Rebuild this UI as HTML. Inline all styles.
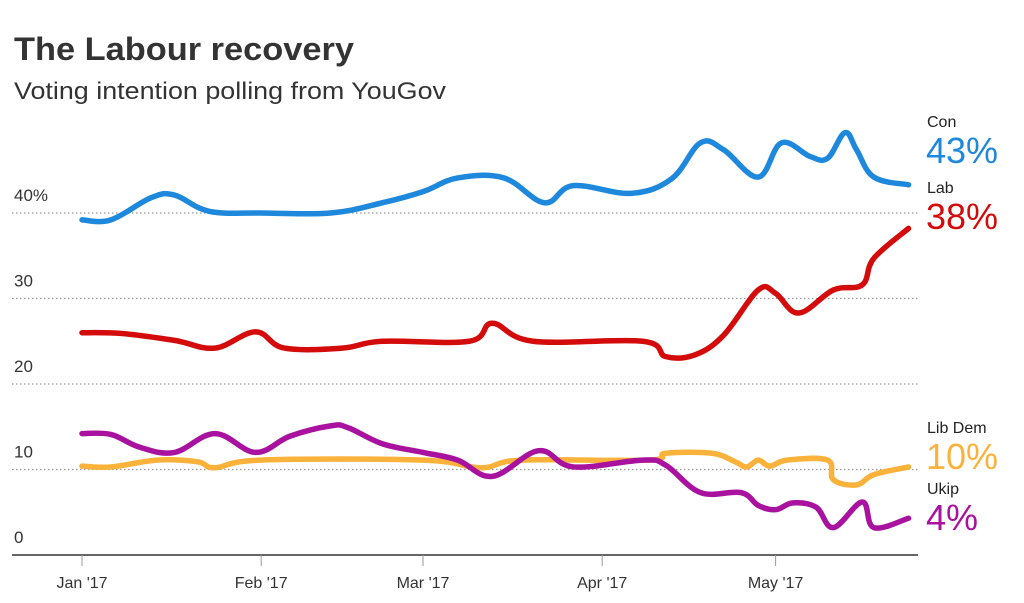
<!DOCTYPE html>
<html><head><meta charset="utf-8"><style>
body{margin:0;background:#fff;}
svg{display:block;font-family:"Liberation Sans",sans-serif;}
</style></head><body>
<svg id="c" width="1024" height="603">
<text x="14" y="60" font-size="32" font-weight="bold" fill="#333" textLength="340" lengthAdjust="spacingAndGlyphs">The Labour recovery</text>
<text x="14" y="99" font-size="24" fill="#333" textLength="432" lengthAdjust="spacingAndGlyphs">Voting intention polling from YouGov</text>
<g id="grid"></g><g id="lines"></g><g id="xaxis"></g>
<text x="927" y="127" font-size="16" fill="#222">Con</text>
<text x="926" y="163" font-size="36" fill="#1e88dc">43%</text>
<text x="927" y="193" font-size="16" fill="#222">Lab</text>
<text x="926" y="229" font-size="36" fill="#d40b0b">38%</text>
<text x="927" y="433" font-size="16" fill="#222">Lib Dem</text>
<text x="926" y="469" font-size="36" fill="#fbb23a">10%</text>
<text x="927" y="494" font-size="16" fill="#222">Ukip</text>
<text x="926" y="530" font-size="36" fill="#a8129e">4%</text>
</svg>
<script>
const yTicks=[0,10,20,30,40];
const yTickLabels=["0","10","20","30","40%"];
const monthDays=[0,31,59,90,120];
const monthLabels=["Jan '17","Feb '17","Mar '17","Apr '17","May '17"];
const conDays=[0,5,12,16,22,31,43,52,59,65,73,80,85,95,102,107,111,117,121,126,129,132,134,137,143];
const conVals=[39.2,39.2,41.8,42.1,40.2,40,40,41.2,42.5,44.1,44.1,41.2,43.2,42.3,44,48.2,47.4,44.2,48.2,46.6,46.4,49.4,47.4,44.2,43.3];
const labDays=[0,7,16,23,30,35,45,52,67,71,78,97,101,106,111,117,120,124,130,135,137,143];
const labVals=[26,25.9,25.1,24.2,26.1,24.2,24.2,25,25,27.1,25,25,23.2,23.4,25.7,31,30.6,28.3,31,31.6,34.7,38.2];
const ldDays=[0,5,13,20,23,31,59,69,76,98,101,109,113,115,117,119,122,129,130,134,137,143];
const ldVals=[10.4,10.3,11.1,10.9,10.2,11.1,11.1,10.2,11.1,11.1,11.9,11.9,10.9,10.3,11.1,10.4,11.1,11.1,8.8,8.2,9.4,10.3];
const ukDays=[0,5,10,16,23,30,36,43,46,52,59,65,71,79,85,97,101,107,114,117,120,123,127,130,135,137,143];
const ukVals=[14.2,14.1,12.6,12,14.2,12,13.9,15.1,14.9,13,12,11.1,9.2,12.2,10.3,11.1,10.5,7.3,7.3,5.8,5.3,6.1,5.6,3.2,6.2,3.2,4.3];
const NS="http://www.w3.org/2000/svg";
const X=d=>82+d*5.78, Y=v=>555-v*8.55;
const grid=document.getElementById('grid'),lines=document.getElementById('lines'),xa=document.getElementById('xaxis');
function mk(tag,a,p){const e=document.createElementNS(NS,tag);for(const k in a)e.setAttribute(k,a[k]);p.appendChild(e);return e;}
yTicks.forEach((v,i)=>{
 if(v>0){const l=mk('line',{x1:12,x2:918,y1:Y(v),y2:Y(v),stroke:'#999','stroke-dasharray':'1.5 2.5','stroke-width':1.2},grid);
 
 }
 const t=mk('text',{x:14,y:Y(v)-12,'font-size':17,fill:'#333'},grid);t.textContent=yTickLabels[i];
 
 
});
const ax=mk('line',{x1:12,x2:918,y1:555,y2:555,stroke:'#333','stroke-width':1.5},xa);


monthDays.forEach((d,i)=>{
 const tk=mk('line',{x1:X(d),x2:X(d),y1:555,y2:566,stroke:'#999','stroke-width':1},xa);
 
 
 const t=mk('text',{x:X(d),y:588,'font-size':16,fill:'#333','text-anchor':'middle'},xa);t.textContent=monthLabels[i];
 
 
});
function path(days,vals){
 const p=days.map((d,i)=>[X(d),Y(vals[i])]);
 let s='M'+p[0][0]+','+p[0][1];
 for(let i=0;i<p.length-1;i++){
  const p0=p[Math.max(0,i-1)],p1=p[i],p2=p[i+1],p3=p[Math.min(p.length-1,i+2)],k=0.18;
  s+=` C${p1[0]+(p2[0]-p0[0])*k},${p1[1]+(p2[1]-p0[1])*k} ${p2[0]-(p3[0]-p1[0])*k},${p2[1]-(p3[1]-p1[1])*k} ${p2[0]},${p2[1]}`;
 }
 return s;
}
[[ldDays,ldVals,'#fbb23a','libdem-line'],[ukDays,ukVals,'#a8129e','ukip-line'],[labDays,labVals,'#d40b0b','lab-line'],[conDays,conVals,'#1e88dc','con-line']].forEach(s=>{
 const e=mk('path',{d:path(s[0],s[1]),fill:'none',stroke:s[2],'stroke-width':5.5,'stroke-linejoin':'round','stroke-linecap':'round'},lines);
 
 
});
</script>
</body></html>
